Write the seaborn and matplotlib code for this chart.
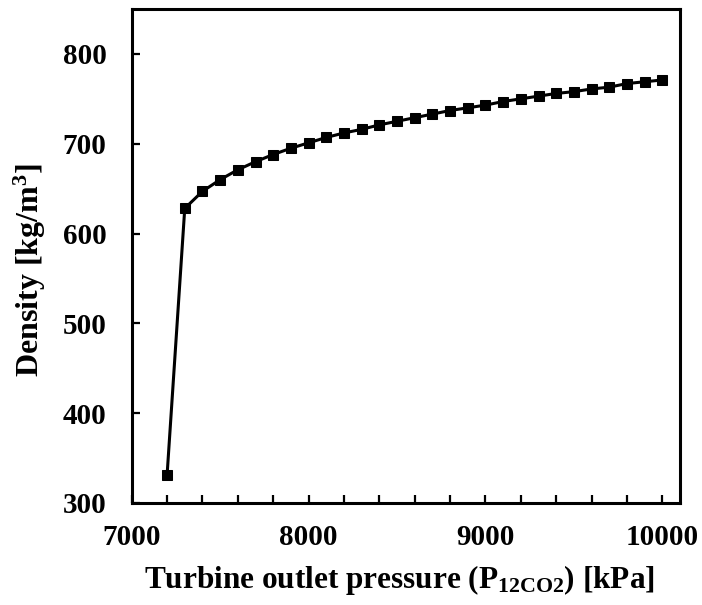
import matplotlib
matplotlib.use("Agg")
import matplotlib.pyplot as plt
from matplotlib.ticker import MultipleLocator
import pandas as pd
import seaborn as sns

# turbine outlet pressure [kPa] and CO2 density [kg/m3]
pressure = [7200, 7300, 7400, 7500, 7600, 7700, 7800, 7900, 8000, 8100,
            8200, 8300, 8400, 8500, 8600, 8700, 8800, 8900, 9000, 9100,
            9200, 9300, 9400, 9500, 9600, 9700, 9800, 9900, 10000]
density = [331, 628, 647, 660, 671, 680, 688, 695, 701, 707,
           712, 716, 721, 725, 729, 733, 737, 740, 743, 747,
           750, 753, 756, 758, 761, 763, 767, 769, 771]

sns.set_style("ticks")
plt.rcParams["font.family"] = ["Liberation Serif", "DejaVu Serif"]
plt.rcParams["font.weight"] = "bold"
plt.rcParams["text.color"] = "black"
plt.rcParams["axes.labelcolor"] = "black"
plt.rcParams["xtick.color"] = "black"
plt.rcParams["ytick.color"] = "black"
plt.rcParams["mathtext.fontset"] = "custom"
plt.rcParams["mathtext.rm"] = "Liberation Serif:bold"
plt.rcParams["mathtext.bf"] = "Liberation Serif:bold"
plt.rcParams["mathtext.it"] = "Liberation Serif:bold"
plt.rcParams["mathtext.default"] = "rm"

df = pd.DataFrame({"pressure": pressure, "density": density})

fig = plt.figure(figsize=(7.02, 6.05), dpi=100)
ax = fig.add_axes([0.1876, 0.1686, 0.7811, 0.8165])

sns.lineplot(data=df, x="pressure", y="density", ax=ax, color="black",
             linewidth=2.2, marker="s", markersize=7.5, markeredgecolor="black",
             markerfacecolor="black")

ax.set_xlim(7000, 10100)
ax.set_ylim(300, 850)
ax.xaxis.set_major_locator(MultipleLocator(1000))
ax.xaxis.set_minor_locator(MultipleLocator(200))
ax.yaxis.set_major_locator(MultipleLocator(100))

ax.tick_params(axis="both", which="both", direction="in", length=6, width=1.6,
               labelsize=21, colors="black")
ax.tick_params(axis="x", which="major", pad=15)
ax.tick_params(axis="y", which="major", pad=18)
for lab in ax.get_xticklabels() + ax.get_yticklabels():
    lab.set_fontweight("bold")

for sp in ax.spines.values():
    sp.set_visible(True)
    sp.set_linewidth(2.2)
    sp.set_color("black")

ax.set_xlabel(r"Turbine outlet pressure (P$_{12CO2}$) [kPa]", fontsize=22.5,
              fontweight="bold", labelpad=9)
ax.set_ylabel(r"Density [kg/m$^{3}$]", fontsize=23, fontweight="bold",
              labelpad=11)
ax.xaxis.label.set_x(0.4875)
ax.yaxis.label.set_y(0.472)

fig.savefig("out.png", dpi=100)
